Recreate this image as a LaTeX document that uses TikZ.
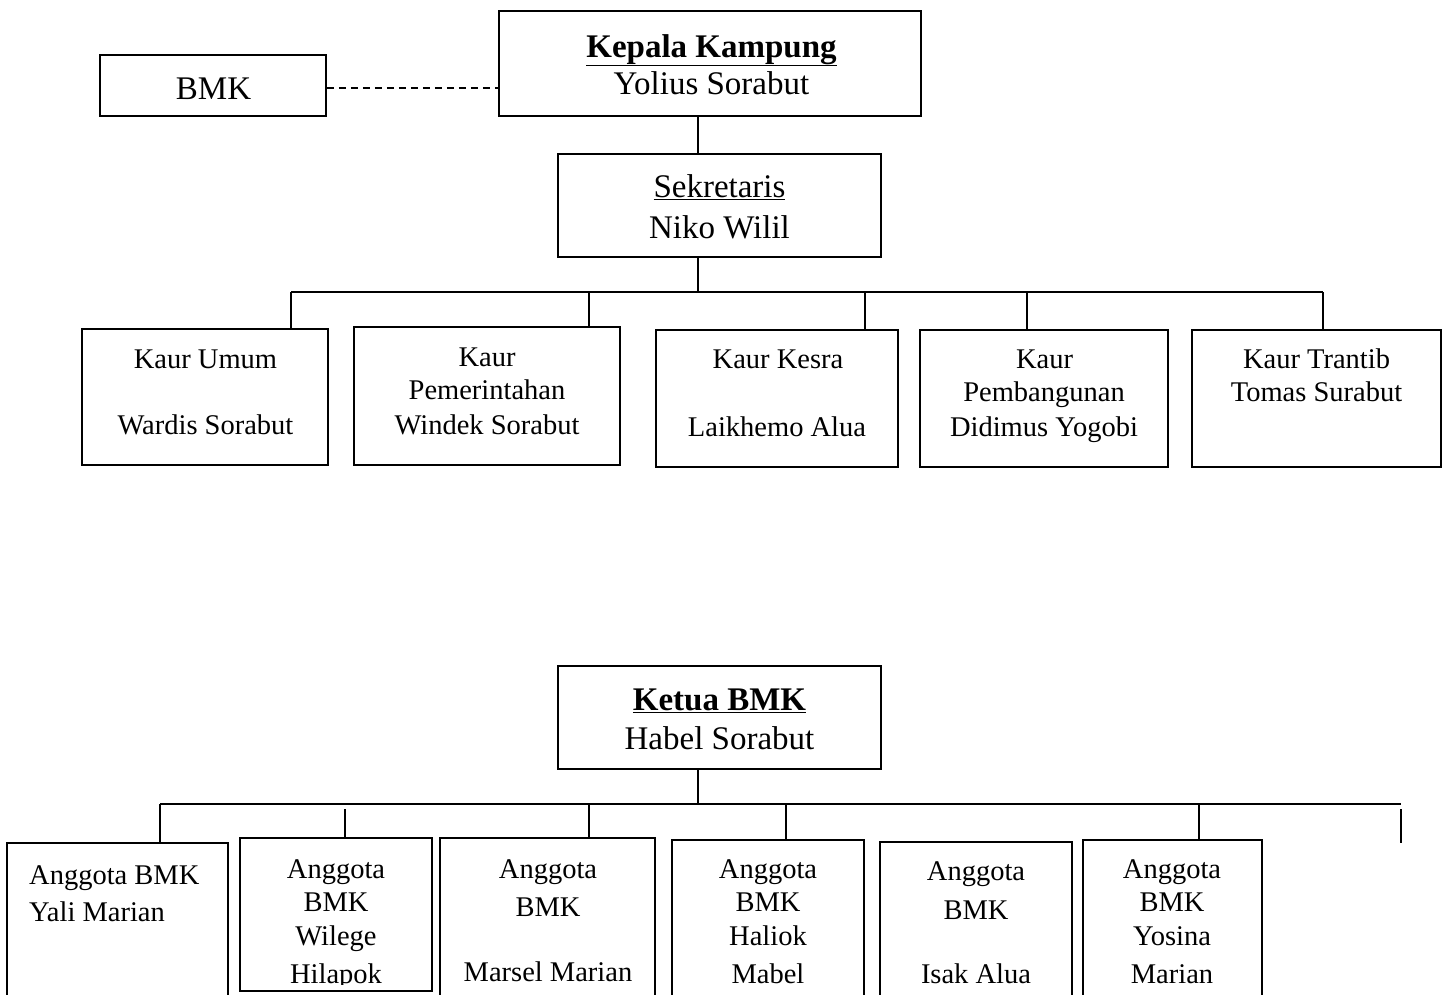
\documentclass[tikz,border=0pt]{standalone}
\usepackage{fontspec}
\setmainfont{Liberation Serif}
\begin{document}
\begin{tikzpicture}[x=1pt,y=-1pt,
  box/.style={draw=black,line width=1.7pt,inner sep=0pt,fill=none},
  conn/.style={draw=black,line width=1.4pt},
  bus/.style={draw=black,line width=2pt},
  big/.style={font=\fontsize{33}{38}\selectfont,inner sep=0pt,anchor=base},
  small/.style={font=\fontsize{28.5}{34}\selectfont,inner sep=0pt,anchor=base}]
\useasboundingbox (0,0) rectangle (1448,994);
\clip (0,0) rectangle (1448,994);
% boxes
\node[box,minimum width=226pt,minimum height=61pt] (bmk) at (213,85.5) {};
\node[box,minimum width=422pt,minimum height=105pt] (kepala) at (710,63.5) {};
\node[box,minimum width=323pt,minimum height=103pt] (sekr) at (719.5,205.5) {};
\node[box,minimum width=246pt,minimum height=136pt] (k1) at (205,397) {};
\node[box,minimum width=266pt,minimum height=138pt] (k2) at (487,396) {};
\node[box,minimum width=242pt,minimum height=137pt] (k3) at (777,398.5) {};
\node[box,minimum width=248pt,minimum height=137pt] (k4) at (1044,398.5) {};
\node[box,minimum width=249pt,minimum height=137pt] (k5) at (1316.5,398.5) {};
\node[box,minimum width=323pt,minimum height=103pt] (ketua) at (719.5,717.5) {};
\node[box,minimum width=221pt,minimum height=167pt] (a1) at (117.5,926.5) {};
\node[box,minimum width=192pt,minimum height=153pt] (a2) at (336,914.5) {};
\node[box,minimum width=215pt,minimum height=172pt] (a3) at (547.5,924) {};
\node[box,minimum width=192pt,minimum height=170pt] (a4) at (768,925) {};
\node[box,minimum width=192pt,minimum height=168pt] (a5) at (976,926) {};
\node[box,minimum width=179pt,minimum height=170pt] (a6) at (1172.5,925) {};
% texts
\node[big] (tbmk) at (213.5,99) {BMK};
\node[big] (tkep1) at (711.5,57) {\textbf{\underline{Kepala Kampung}}};
\node[big] (tkep2) at (711.5,94) {Yolius Sorabut};
\node[big] (tsek1) at (719.5,197) {\underline{Sekretaris}};
\node[big] (tsek2) at (719.5,238) {Niko Wilil};
\node[big] (tket1) at (719.5,710) {\textbf{\underline{Ketua BMK}}};
\node[big] (tket2) at (719.5,749) {Habel Sorabut};
\node[small] (tk11) at (205.5,368) {Kaur Umum};
\node[small] (tk12) at (205.5,434) {Wardis Sorabut};
\node[small] (tk21) at (487,366) {Kaur};
\node[small] (tk22) at (487,399) {Pemerintahan};
\node[small] (tk23) at (487,434) {Windek Sorabut};
\node[small] (tk31) at (778,368) {Kaur Kesra};
\node[small] (tk32) at (777,436) {Laikhemo Alua};
\node[small] (tk41) at (1044.5,368) {Kaur};
\node[small] (tk42) at (1044,401) {Pembangunan};
\node[small] (tk43) at (1044,436) {Didimus Yogobi};
\node[small] (tk51) at (1316.5,368) {Kaur Trantib};
\node[small] (tk52) at (1316.5,401) {Tomas Surabut};
\node[small,anchor=base west] (ta11) at (29,884) {Anggota BMK};
\node[small,anchor=base west] (ta12) at (29,921) {Yali Marian};
\node[small] (ta21) at (336,878) {Anggota};
\node[small] (ta22) at (336,911) {BMK};
\node[small] (ta23) at (336,945) {Wilege};
\begin{scope}
\clip (240,950) rectangle (432,984);
\node[small] (ta24) at (336,983) {Hilapok};
\end{scope}
\node[small] (ta31) at (548,878) {Anggota};
\node[small] (ta32) at (548,916) {BMK};
\node[small] (ta33) at (548,981) {Marsel Marian};
\node[small] (ta41) at (768,878) {Anggota};
\node[small] (ta42) at (768,911) {BMK};
\node[small] (ta43) at (768,945) {Haliok};
\node[small] (ta44) at (768,983) {Mabel};
\node[small] (ta51) at (976,880) {Anggota};
\node[small] (ta52) at (976,919) {BMK};
\node[small] (ta53) at (976,983) {Isak Alua};
\node[small] (ta61) at (1172,878) {Anggota};
\node[small] (ta62) at (1172,911) {BMK};
\node[small] (ta63) at (1172,945) {Yosina};
\node[small] (ta64) at (1172,983) {Marian};
% coordinates
\coordinate (t1) at (698,292);
\coordinate (b1l) at (291,292);
\coordinate (b1r) at (1323,292);
\coordinate (d12) at (589,292);
\coordinate (d13) at (865,292);
\coordinate (d14) at (1027,292);
\coordinate (t2) at (698,804);
\coordinate (b2l) at (160,804);
\coordinate (b2r) at (1401,804);
\coordinate (d22) at (345,809);
\coordinate (d23) at (589,804);
\coordinate (d24) at (786,804);
\coordinate (d26) at (1199,804);
\coordinate (d27) at (1401,809);
\coordinate (d27e) at (1401,843);
% connectors
\draw[conn,dashed,dash pattern=on 7pt off 5pt] (bmk.east |- 0,88) -- (kepala.west |- 0,88);
\draw[conn] (kepala.south -| t1) -- (sekr.north -| t1);
\draw[conn] (sekr.south -| t1) -- (t1);
\draw[bus] (b1l) -- (b1r);
\draw[conn] (b1l) -- (b1l |- k1.north);
\draw[conn] (d12) -- (d12 |- k2.north);
\draw[conn] (d13) -- (d13 |- k3.north);
\draw[conn] (d14) -- (d14 |- k4.north);
\draw[conn] (b1r) -- (b1r |- k5.north);
\draw[conn] (ketua.south -| t2) -- (t2);
\draw[bus] (b2l) -- (b2r);
\draw[conn] (b2l) -- (b2l |- a1.north);
\draw[conn] (d22) -- (d22 |- a2.north);
\draw[conn] (d23) -- (d23 |- a3.north);
\draw[conn] (d24) -- (d24 |- a4.north);
\draw[conn] (d26) -- (d26 |- a6.north);
\draw[conn] (d27) -- (d27e);
\end{tikzpicture}
\end{document}
